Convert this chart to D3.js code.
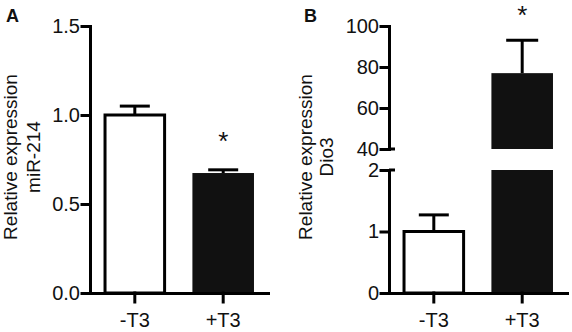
<!DOCTYPE html>
<html>
<head>
<meta charset="utf-8">
<script src="https://cdn.jsdelivr.net/npm/d3@7"></script>
<style>
  html, body { margin: 0; padding: 0; background: #fff; }
  svg { display: block; font-family: "Liberation Sans", Arial, sans-serif; }
</style>
</head>
<body>
<svg id="chart" width="572" height="332"></svg>
<script>
// ---- data ----
const categories = ["-T3", "+T3"];
const mir214Mean = [1.0, 0.674];
const mir214Err = [0.05, 0.018];
const dio3Mean = [1.0, 77];
const dio3Err = [0.27, 16];
const ticksA = [0.0, 0.5, 1.0, 1.5];
const ticksBLower = [0, 1, 2];
const ticksBUpper = [40, 60, 80, 100];
const barFills = ["#ffffff", "#111111"];
const significant = [false, true];

const svg = d3.select("#chart");
const SW = 3;
const tickFont = "20px";

function styleAxis(g) {
  g.select(".domain").attr("stroke", "#000").attr("stroke-width", SW).attr("stroke-linecap", "square");
  g.selectAll(".tick line").attr("stroke", "#000").attr("stroke-width", SW).attr("stroke-linecap", "square");
  g.selectAll(".tick text").attr("fill", "#111").style("font-size", tickFont);
}

function errorBar(g, cx, yBase, yTop, capHalf) {
  g.append("line").attr("x1", cx).attr("x2", cx).attr("y1", yBase).attr("y2", yTop)
    .attr("stroke", "#000").attr("stroke-width", SW);
  g.append("line").attr("x1", cx - capHalf).attr("x2", cx + capHalf).attr("y1", yTop).attr("y2", yTop)
    .attr("stroke", "#000").attr("stroke-width", SW);
}

function yLabel(g, x1, x2, cy, line1, line2) {
  g.append("text").attr("transform", `translate(${x1},${cy}) rotate(-90)`)
    .attr("text-anchor", "middle").style("font-size", "19px").attr("fill", "#111").text(line1);
  g.append("text").attr("transform", `translate(${x2},${cy}) rotate(-90)`)
    .attr("text-anchor", "middle").style("font-size", "19px").attr("fill", "#111").text(line2);
}

// ================= Panel A =================
{
  const g = svg.append("g");
  const x = d3.scaleBand().domain(categories).range([90, 268]).paddingInner(0.326).paddingOuter(0.17);
  const y = d3.scaleLinear().domain([0, 1.5]).range([293, 26]);

  categories.forEach((c, i) => {
    const bx = x(c), bw = x.bandwidth();
    if (i === 0) {
      g.append("rect").attr("x", bx).attr("y", y(mir214Mean[i])).attr("width", bw)
        .attr("height", y(0) - y(mir214Mean[i])).attr("fill", barFills[i])
        .attr("stroke", "#000").attr("stroke-width", SW);
    } else {
      g.append("rect").attr("x", bx - 1).attr("y", y(mir214Mean[i])).attr("width", bw + 2)
        .attr("height", y(0) - y(mir214Mean[i])).attr("fill", barFills[i]);
    }
    errorBar(g, bx + bw / 2, y(mir214Mean[i]), y(mir214Mean[i] + mir214Err[i]), 15);
    if (significant[i]) {
      g.append("text").attr("x", bx + bw / 2).attr("y", y(mir214Mean[i] + mir214Err[i]) - 20)
        .attr("text-anchor", "middle").style("font-size", "26px").attr("fill", "#111").text("*");
    }
  });

  const gy = g.append("g").attr("transform", "translate(90,0)")
    .call(d3.axisLeft(y).tickValues(ticksA).tickFormat(d3.format(".1f")).tickSize(8).tickSizeOuter(0).tickPadding(2));
  styleAxis(gy);
  const gx = g.append("g").attr("transform", "translate(0,293)")
    .call(d3.axisBottom(x).tickSize(9).tickSizeOuter(0).tickPadding(11));
  styleAxis(gx);

  yLabel(g, 17, 40, 157, "Relative expression", "miR-214");
  g.append("text").attr("x", 6).attr("y", 22).style("font-size", "18px").style("font-weight", "bold").attr("fill", "#111").text("A");
}

// ================= Panel B =================
{
  const g = svg.append("g");
  const x = d3.scaleBand().domain(categories).range([389, 567]).paddingInner(0.326).paddingOuter(0.17);
  const yLo = d3.scaleLinear().domain([0, 2]).range([293, 170]);
  const yHi = d3.scaleLinear().domain([40, 100]).range([149, 26]);

  categories.forEach((c, i) => {
    const bx = x(c), bw = x.bandwidth(), cx = bx + bw / 2;
    const m = dio3Mean[i], e = dio3Err[i];
    if (m <= 2) {
      g.append("rect").attr("x", bx).attr("y", yLo(m)).attr("width", bw)
        .attr("height", yLo(0) - yLo(m)).attr("fill", barFills[i])
        .attr("stroke", "#000").attr("stroke-width", SW);
      errorBar(g, cx, yLo(m), yLo(m + e), 15);
    } else {
      g.append("rect").attr("x", bx - 1).attr("y", yLo(2)).attr("width", bw + 2)
        .attr("height", yLo(0) - yLo(2)).attr("fill", barFills[i]);
      g.append("rect").attr("x", bx - 1).attr("y", yHi(m)).attr("width", bw + 2)
        .attr("height", yHi(40) - yHi(m)).attr("fill", barFills[i]);
      errorBar(g, cx, yHi(m), yHi(m + e), 16);
      if (significant[i]) {
        g.append("text").attr("x", cx).attr("y", yHi(m + e) - 16)
          .attr("text-anchor", "middle").style("font-size", "26px").attr("fill", "#111").text("*");
      }
    }
  });

  const gyLo = g.append("g").attr("transform", "translate(389,0)")
    .call(d3.axisLeft(yLo).tickValues(ticksBLower).tickFormat(d3.format("d")).tickSize(8).tickSizeOuter(0).tickPadding(2));
  styleAxis(gyLo);
  const gyHi = g.append("g").attr("transform", "translate(389,0)")
    .call(d3.axisLeft(yHi).tickValues(ticksBUpper).tickFormat(d3.format("d")).tickSize(8).tickSizeOuter(0).tickPadding(2));
  styleAxis(gyHi);
  [yHi(40), yLo(2)].forEach(yy => {
    g.append("line").attr("x1", 389).attr("x2", 395).attr("y1", yy).attr("y2", yy)
      .attr("stroke", "#000").attr("stroke-width", SW);
  });

  const gx = g.append("g").attr("transform", "translate(0,293)")
    .call(d3.axisBottom(x).tickSize(9).tickSizeOuter(0).tickPadding(11));
  styleAxis(gx);

  yLabel(g, 312, 333, 157, "Relative expression", "Dio3");
  g.append("text").attr("x", 304).attr("y", 22).style("font-size", "18px").style("font-weight", "bold").attr("fill", "#111").text("B");
}
</script>
</body>
</html>
